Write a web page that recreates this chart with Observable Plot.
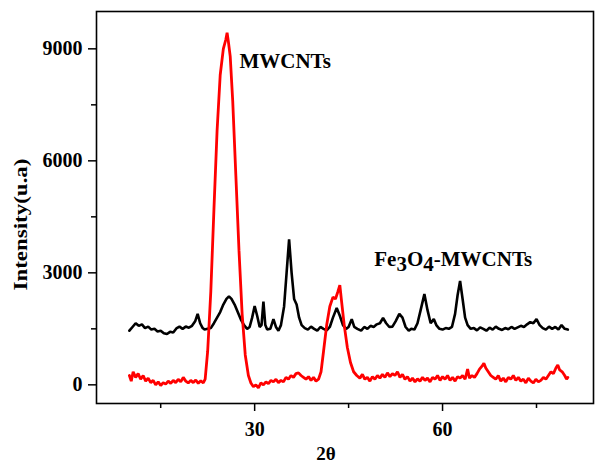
<!DOCTYPE html>
<html>
<head>
<meta charset="utf-8">
<script src="https://cdn.jsdelivr.net/npm/d3@7"></script>
<script src="https://cdn.jsdelivr.net/npm/@observablehq/plot@0.6"></script>
<style>
  html, body { margin: 0; padding: 0; background: #fff; }
  svg { font-family: "Liberation Serif", "Times New Roman", serif; }
</style>
</head>
<body>
<div id="chart"></div>
<script>
// Fe3O4-MWCNTs (black) : 2θ, intensity
const feX = [10,10.5,11,11.5,12,12.5,13,13.5,14,14.5,15,15.5,16,16.5,17,17.5,18,18.5,19,19.5,20,20.5,20.9,21.3,21.7,22,22.5,23,23.5,24,24.5,25,25.5,25.9,26.3,26.8,27.3,27.8,28.3,28.8,29.2,29.6,30,30.4,30.8,31.1,31.4,31.7,32,32.5,33,33.4,33.8,34.2,34.7,35.1,35.5,35.9,36.3,36.7,37.1,37.5,38,38.5,39,39.5,40,40.5,41,41.5,42,42.5,43.1,43.6,44.1,44.6,45,45.5,45.9,46.4,47,47.5,48,48.5,49,49.5,50,50.5,51,51.5,52,52.5,53.1,53.6,54.1,54.6,55,55.5,56,56.5,57.1,57.6,58.1,58.6,59,59.5,60,60.5,61,61.5,62,62.4,62.8,63.2,63.6,64,64.5,65,65.5,66,66.5,67,67.5,68,68.5,69,69.5,70,70.5,71,71.5,72,72.5,73,73.5,74,74.5,75,75.5,76,76.5,77,77.5,78,78.5,79,79.5,80];
const feY = [1450,1550,1650,1580,1620,1520,1560,1480,1500,1430,1450,1380,1360,1420,1400,1510,1560,1500,1560,1530,1580,1700,1900,1650,1520,1480,1500,1520,1650,1800,1950,2150,2300,2370,2300,2150,1950,1750,1600,1500,1550,1800,2110,1850,1550,1600,2230,1600,1480,1500,1760,1550,1450,1600,2100,3000,3900,3000,2300,2150,1800,1600,1520,1480,1560,1500,1450,1550,1500,1460,1550,1800,2060,1850,1600,1500,1550,1760,1550,1500,1450,1550,1500,1580,1550,1620,1650,1790,1650,1550,1560,1700,1900,1800,1550,1450,1500,1480,1650,2000,2430,2000,1650,1760,1600,1500,1480,1520,1500,1550,1900,2400,2780,2300,1800,1600,1500,1520,1460,1540,1500,1450,1530,1480,1560,1500,1470,1520,1490,1550,1500,1540,1580,1550,1620,1680,1650,1760,1600,1520,1480,1560,1500,1550,1480,1600,1500,1480];

// MWCNTs (red) : 2θ, intensity
const cntX = [10,10.3,10.6,11,11.4,11.8,12.2,12.6,13,13.4,13.8,14.2,14.6,15,15.4,15.8,16.2,16.6,17,17.4,17.8,18.2,18.6,19,19.4,19.8,20.2,20.6,21,21.4,21.8,22.1,22.5,23,23.5,24,24.5,25,25.4,25.6,25.8,26.1,26.5,27,27.5,28,28.5,29,29.4,29.8,30.2,30.6,31,31.4,31.8,32.2,32.6,33,33.4,33.8,34.2,34.6,35,35.4,35.8,36.2,36.6,37,37.4,37.8,38.2,38.6,39,39.4,39.8,40.2,40.6,41,41.5,42,42.5,42.9,43.3,43.6,43.9,44.3,44.8,45.3,45.8,46.3,46.8,47.2,47.6,48,48.4,48.8,49.2,49.6,50,50.4,50.8,51.2,51.6,52,52.4,52.8,53.2,53.6,54,54.4,54.8,55.2,55.6,56,56.4,56.8,57.2,57.6,58,58.4,58.8,59.2,59.6,60,60.4,60.8,61.2,61.6,62,62.4,62.8,63.2,63.6,64,64.3,64.7,65.1,65.5,65.9,66.3,66.6,66.9,67.3,67.7,68.1,68.5,68.9,69.3,69.7,70.1,70.5,70.9,71.3,71.7,72.1,72.5,72.9,73.3,73.7,74.1,74.5,74.9,75.3,75.7,76.1,76.5,76.9,77.3,77.7,78.1,78.4,78.7,79.1,79.5,79.8,80];
const cntY = [250,100,350,200,300,150,250,100,180,60,120,0,80,-20,60,20,100,40,120,60,150,80,200,100,50,120,60,130,40,110,50,150,900,2500,4700,6800,8300,9000,9250,9430,9200,8800,7600,5600,3600,1900,800,250,50,-50,0,-80,50,0,80,30,120,80,150,60,120,80,200,150,250,200,300,320,250,200,150,220,120,200,100,150,350,900,1600,2100,2350,2300,2500,2670,2200,1600,1000,600,350,250,180,280,150,200,100,220,150,250,180,280,200,320,220,300,250,350,200,280,150,220,100,180,80,160,100,200,120,180,80,200,150,250,120,220,150,250,120,200,100,220,180,250,150,420,180,250,200,300,420,500,580,450,350,250,200,150,250,100,180,80,200,150,250,120,200,100,150,50,180,100,50,150,80,120,200,150,250,350,300,450,530,400,350,250,150,200];

const xTicks = [30, 60];
const xMinorTicks = [15, 45, 75];
const yTicks = [0, 3000, 6000, 9000];
const yMinorTicks = [1500, 4500, 7500];

const labelNames = ["MWCNTs", "Fe3O4-MWCNTs"];
const labelX = [27.57, 49.1];
const labelY = [8671, 3369];
const yTitle = "Intensity(u.a)";
const xTitle = "2θ";

const fe = feX.map((x, i) => ({x, y: feY[i]}));
const cnt = cntX.map((x, i) => ({x, y: cntY[i]}));
const labels = labelNames.map((t, i) => ({t, x: labelX[i], y: labelY[i]}));

const plot = Plot.plot({
  width: 598,
  height: 470,
  marginLeft: 96,
  marginRight: 5,
  marginTop: 11,
  marginBottom: 67,
  style: {fontFamily: '"Liberation Serif", "Times New Roman", serif', background: "#fff"},
  x: {domain: [4.75, 84.1]},
  y: {domain: [-500, 10000]},
  marks: [
    Plot.line(fe, {x: "x", y: "y", stroke: "#000", strokeWidth: 2.6, strokeLinejoin: "miter"}),
    Plot.line(cnt, {x: "x", y: "y", stroke: "#ff0000", strokeWidth: 2.8, strokeLinejoin: "miter"}),
    Plot.frame({stroke: "#000", strokeWidth: 1.6}),
    Plot.axisY({ticks: yTicks, tickSize: 8, tickPadding: 6, strokeWidth: 1.5, label: null, tickFormat: d => String(d), fontSize: 20, fontWeight: "bold", fill: "#000"}),
    Plot.axisY({ticks: yMinorTicks, tickSize: 5, tickFormat: () => "", strokeWidth: 1.5, label: null}),
    Plot.axisX({ticks: xTicks, tickSize: 8, tickPadding: 10, strokeWidth: 1.5, label: null, tickFormat: d => String(d), fontSize: 20, fontWeight: "bold", fill: "#000"}),
    Plot.axisX({ticks: xMinorTicks, tickSize: 5, tickFormat: () => "", strokeWidth: 1.5, label: null}),
    Plot.text(labels, {x: "x", y: "y", text: "t", textAnchor: "start", fontSize: 21, fontWeight: "bold", fill: "#000", className: "annot"}),
    Plot.text([yTitle], {frameAnchor: "left", textAnchor: "middle", lineAnchor: "middle", rotate: -90, dx: -76, dy: 17, fontSize: 19, fontWeight: "bold", fill: "#000", className: "ytitle"}),
    Plot.text([xTitle], {frameAnchor: "bottom", textAnchor: "middle", lineAnchor: "middle", dx: -19, dy: 50, fontSize: 19, fontWeight: "bold", fill: "#000"})
  ]
});
document.getElementById("chart").appendChild(plot);

// stretch the y title to the reference's wide glyphs
d3.select(plot).selectAll("g.ytitle text").attr("textLength", 132).attr("lengthAdjust", "spacingAndGlyphs");

// render the subscripts of Fe3O4
d3.select(plot).selectAll("g.annot text").each(function() {
  const el = d3.select(this);
  if (el.text() === "Fe3O4-MWCNTs") {
    el.text(null);
    const parts = [["Fe", 0], ["3", 5], ["O", -5], ["4", 5], ["-MWCNTs", -5]];
    for (const [s, dy] of parts) el.append("tspan").attr("dy", dy).text(s);
  }
});
</script>
</body>
</html>
